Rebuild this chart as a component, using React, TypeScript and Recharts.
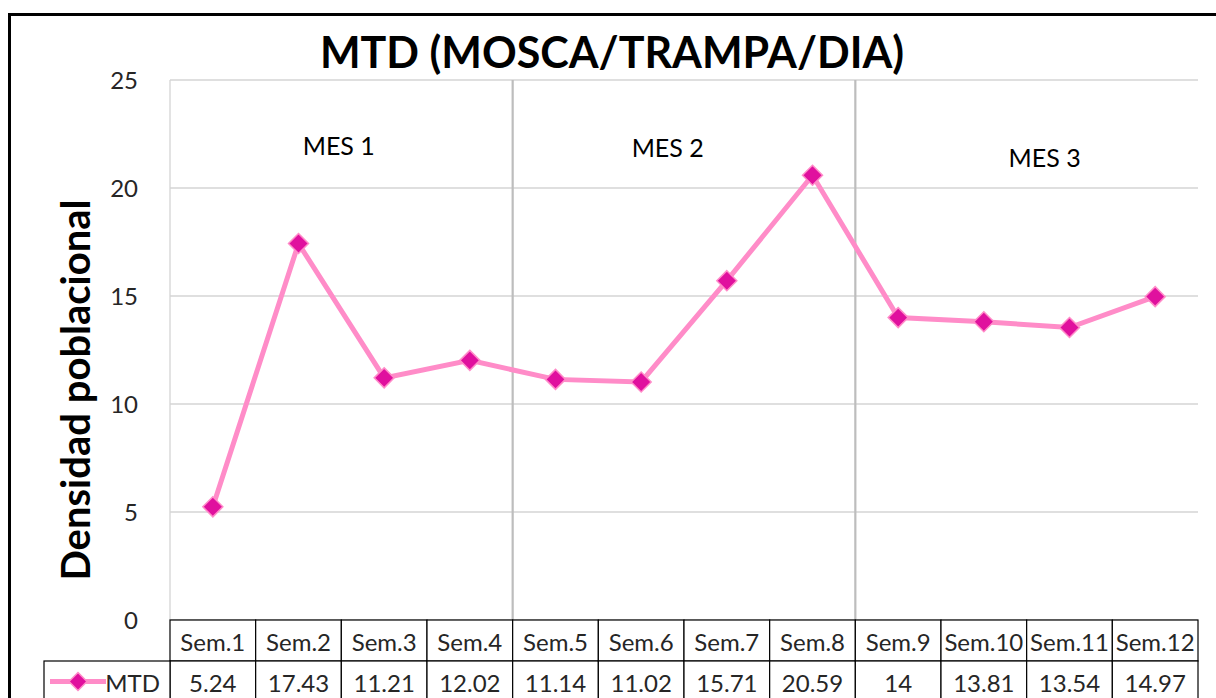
import React from 'react';
import {
  LineChart,
  Line,
  XAxis,
  YAxis,
  CartesianGrid,
  ReferenceLine,
  ReferenceDot,
} from 'recharts';

const weeks = ['Sem.1', 'Sem.2', 'Sem.3', 'Sem.4', 'Sem.5', 'Sem.6', 'Sem.7', 'Sem.8', 'Sem.9', 'Sem.10', 'Sem.11', 'Sem.12'];
const mtd = [5.24, 17.43, 11.21, 12.02, 11.14, 11.02, 15.71, 20.59, 14, 13.81, 13.54, 14.97];
const yTicks = [0, 5, 10, 15, 20, 25];
const monthNames = ['MES 1', 'MES 2', 'MES 3'];
const monthStarts = ['Sem.5', 'Sem.9'];
// where the month captions sit, in week units / y units
const monthLabelX = [1.97, 5.81, 10.21];
const monthLabelY = [21.94, 21.85, 21.4];

// slot = middle of each week on a 0..12 week scale, used to place the captions
const data = weeks.map((w, i) => ({ week: w, slot: i + 0.5, MTD: mtd[i] }));

const FONT = 'Lato, "Open Sans", sans-serif';
const TEXT = '#262626';
const LINE = '#FF8CC8';
const MARK = '#E0109E';

const Diamond = ({ cx, cy, r = 10 }: any) => {
  if (cx == null || cy == null) return null;
  return (
    <path
      d={`M${cx},${cy - r}L${cx + r},${cy}L${cx},${cy + r}L${cx - r},${cy}Z`}
      fill={MARK}
      stroke={LINE}
      strokeWidth={1.5}
    />
  );
};

const ROW_H = 41;

const TableTick = (props: any) => {
  const { x, y, payload, index } = props;
  const w = payload.offset ? payload.offset * 2 : props.width / props.visibleTicksCount;
  const left = x - w / 2;
  const legendW = 126;
  return (
    <g>
      <rect x={left} y={y} width={w} height={ROW_H} fill='#fff' stroke='#000' strokeWidth={1.2} />
      <text x={x} y={y + ROW_H / 2 + 1} textAnchor='middle' dominantBaseline='central' fontSize={24} fill={TEXT} fontFamily={FONT}>
        {payload.value}
      </text>
      <rect x={left} y={y + ROW_H} width={w} height={ROW_H} fill='#fff' stroke='#000' strokeWidth={1.2} />
      <text x={x} y={y + ROW_H * 1.5 + 1} textAnchor='middle' dominantBaseline='central' fontSize={24} fill={TEXT} fontFamily={FONT}>
        {mtd[index]}
      </text>
      {index === 0 && (
        <g>
          <rect x={left - legendW} y={y + ROW_H} width={legendW} height={ROW_H} fill='#fff' stroke='#000' strokeWidth={1.2} />
          <line x1={left - legendW + 6} x2={left - legendW + 62} y1={y + ROW_H * 1.5} y2={y + ROW_H * 1.5} stroke={LINE} strokeWidth={5} />
          <Diamond cx={left - legendW + 34} cy={y + ROW_H * 1.5} r={9} />
          <text x={left - 10} y={y + ROW_H * 1.5 + 1} textAnchor='end' dominantBaseline='central' fontSize={24} fill={TEXT} fontFamily={FONT}>
            MTD
          </text>
        </g>
      )}
    </g>
  );
};

const YLabel = ({ viewBox }: any) => {
  const cx = viewBox.x + 75;
  const cy = viewBox.y + viewBox.height / 2 + 40;
  return (
    <text
      x={cx}
      y={cy}
      transform={`rotate(-90 ${cx} ${cy})`}
      textAnchor='middle'
      dominantBaseline='central'
      fontSize={40}
      fontWeight='bold'
      fill='#000'
      fontFamily={FONT}
    >
      Densidad poblacional
    </text>
  );
};

export default function App() {
  return (
    <div style={{ position: 'fixed', left: 0, top: 0, width: 1216, height: 698, overflow: 'hidden', background: '#fff' }}>
      <div
        style={{
          position: 'absolute',
          left: 8,
          top: 13,
          width: 1400,
          height: 900,
          border: '3px solid #000',
          boxSizing: 'border-box',
        }}
      />
      <div
        style={{
          position: 'absolute',
          left: 0,
          width: 1216,
          top: 26,
          textAlign: 'center',
          paddingLeft: 8,
          boxSizing: 'border-box',
          fontFamily: FONT,
          fontWeight: 'bold',
          fontSize: 43,
          lineHeight: '52px',
          color: '#000',
        }}
      >
        MTD (MOSCA/TRAMPA/DIA)
      </div>
      <div style={{ position: 'absolute', left: 0, top: 0 }}>
        <LineChart width={1216} height={698} data={data} margin={{ top: 80, right: 18, left: 0, bottom: 0 }}>
          <CartesianGrid vertical={false} stroke='#D4D4D4' strokeWidth={1.3} />
          <XAxis
            dataKey='week'
            scale='band'
            height={78}
            axisLine={false}
            tickLine={false}
            tickSize={0}
            tickMargin={0}
            interval={0}
            tick={<TableTick />}
          />
          <XAxis xAxisId='m' dataKey='slot' type='number' domain={[0, 12]} allowDataOverflow hide />
          <YAxis
            width={170}
            domain={[0, 25]}
            ticks={yTicks}
            interval={0}
            axisLine={{ stroke: '#D4D4D4', strokeWidth: 1.3 }}
            tickLine={false}
            tickMargin={26}
            tick={{ fontSize: 24, fill: TEXT, fontFamily: FONT }}
            label={<YLabel />}
          />
          <ReferenceLine x='Sem.12' position='end' stroke='#D4D4D4' strokeWidth={1.3} />
          {monthStarts.map((w) => (
            <ReferenceLine key={w} x={w} position='start' stroke='#BDBDBD' strokeWidth={2.2} />
          ))}
          {monthNames.map((m, i) => (
            <ReferenceDot
              key={m}
              xAxisId='m'
              x={monthLabelX[i]}
              y={monthLabelY[i]}
              r={0}
              fill='none'
              stroke='none'
              label={{ value: m, position: 'center', fontSize: 25, fill: '#000', fontFamily: FONT }}
            />
          ))}
          <Line
            dataKey='MTD'
            stroke={LINE}
            strokeWidth={5}
            dot={<Diamond r={10} />}
            activeDot={false}
            isAnimationActive={false}
          />
        </LineChart>
      </div>
    </div>
  );
}
